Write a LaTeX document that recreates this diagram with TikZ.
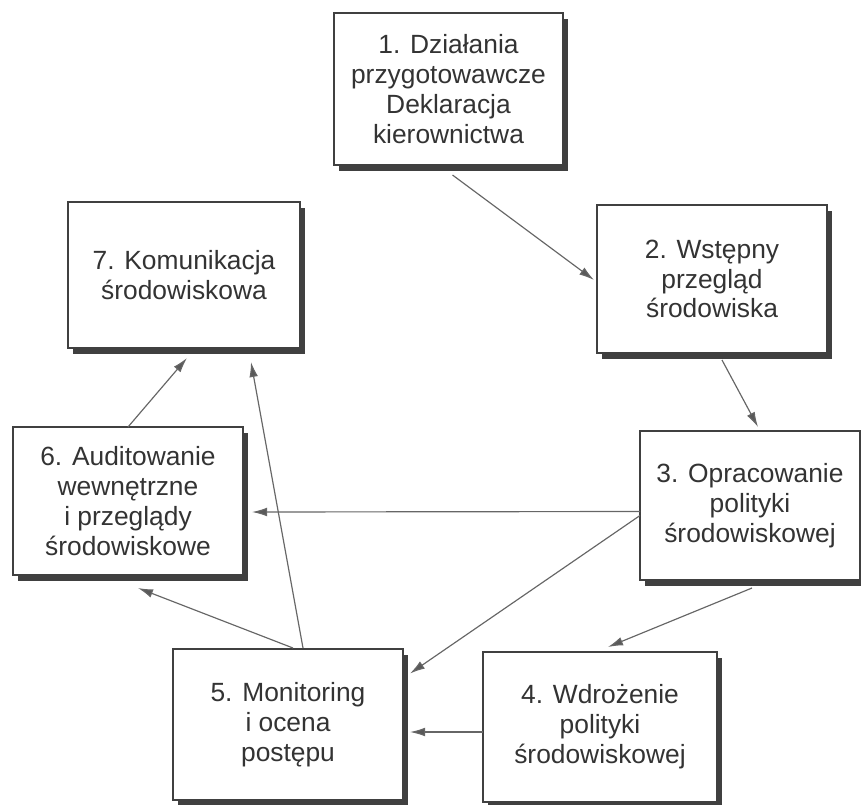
\documentclass[tikz,border=0pt]{standalone}
\usepackage{fontspec}
\setmainfont{Liberation Sans}
\usetikzlibrary{arrows.meta,calc,shadows}

\tikzset{
    krok/.style={draw=black!75, line width=1pt, fill=white, align=center,
        text=black!80, inner sep=0pt, outer sep=0pt,
        font=\fontsize{22.5}{25.5}\selectfont,
        drop shadow={shadow xshift=0.15cm, shadow yshift=-0.18cm, fill=black!75, opacity=1}},
    strz/.style={draw=black!60, line width=1pt,
        -{Latex[length=0.45cm,width=0.26cm,fill=black!65]}}
}

\begin{document}
\begin{tikzpicture}[x=0.03cm,y=-0.03cm]
        \useasboundingbox (0,0) rectangle (861,804);
        \node[krok, minimum width=6.87cm, minimum height=4.56cm] (b1) at (448.5,89) {1. Działania\\przygotowawcze\\Deklaracja\\kierownictwa};
        \node[krok, minimum width=6.9cm, minimum height=4.44cm] (b2) at (712,279) {2. Wstępny\\przegląd\\środowiska};
        \node[krok, minimum width=6.6cm, minimum height=4.47cm] (b3) at (750,505.5) {3. Opracowanie\\polityki\\środowiskowej};
        \node[krok, minimum width=7.02cm, minimum height=4.5cm] (b4) at (600,727) {4. Wdrożenie\\polityki\\środowiskowej};
        \node[krok, minimum width=6.9cm, minimum height=4.53cm] (b5) at (288,724.5) {5. Monitoring\\i ocena\\postępu};
        \node[krok, minimum width=6.9cm, minimum height=4.44cm] (b6) at (128,501) {6. Auditowanie\\wewnętrzne\\i przeglądy\\środowiskowe};
        \node[krok, minimum width=6.96cm, minimum height=4.38cm] (b7) at (184,275) {7. Komunikacja\\środowiskowa};
        \draw[strz] ($(b1.south)+(4,10)$) -- ($(b2.west)+(-3,1)$);
        \draw[strz] ($(b2.south)+(10,7)$) -- ($(b3.north)+(8,-4)$);
        \draw[strz] ($(b3.south)+(2,8)$) -- ($(b4.north)+(8,-5)$);
        \draw[strz] ($(b3.west)+(0,10)$) -- ($(b5.east)+(7,-51)$);
        \draw[strz] ($(b3.west)+(0,6)$) -- ($(b6.east)+(9,11)$);
        \draw[strz] ($(b4.west)+(0,5)$) -- ($(b5.east)+(7,7.5)$);
        \draw[strz] ($(b5.north)+(5,-1)$) -- ($(b6.south)+(10,13)$);
        \draw[strz] ($(b5.north)+(15,-1)$) -- ($(b7.south)+(67,14)$);
        \draw[strz] (b6.north) -- ($(b7.south)+(3,10)$);
    \end{tikzpicture}
\end{document}
